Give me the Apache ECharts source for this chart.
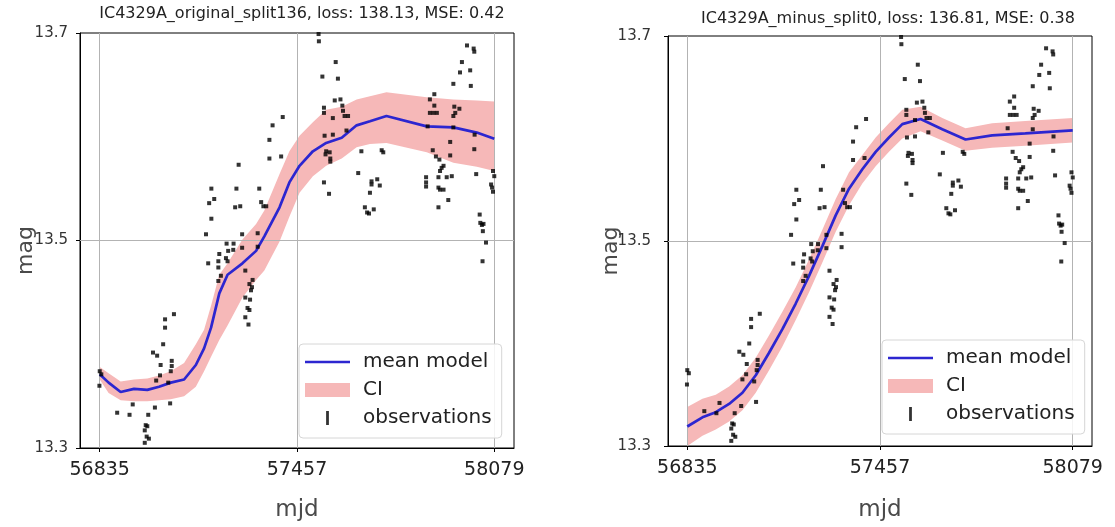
<!DOCTYPE html>
<html>
<head>
<meta charset="utf-8">
<script src="https://cdn.jsdelivr.net/npm/echarts@6/dist/echarts.min.js"></script>
<style>
  html, body { margin: 0; padding: 0; background: #fff; }
  #chart { width: 1115px; height: 527px; }
</style>
</head>
<body>
<div id="chart"></div>
<script>
// Panel titles
const panelTitles = [
  'IC4329A_original_split136, loss: 138.13, MSE: 0.42',
  'IC4329A_minus_split0, loss: 136.81, MSE: 0.38'
];

// Tick values
const mjdTicks = [56835, 57457, 58079];
const magTicks = [13.3, 13.5, 13.7];

// Observed light curve [mjd, mag]
const observations = [
  [56835,13.374],[56840,13.371],[56834,13.360],[56890,13.334],[56929,13.332],[56939,13.342],
  [56980,13.322],[56985,13.321],[56977,13.317],[56983,13.311],[56990,13.309],[56977,13.305],
  [56988,13.332],[57009,13.339],[57057,13.343],[57041,13.424],[57069,13.429],[57041,13.416],
  [57035,13.400],[57003,13.392],[57016,13.389],[57027,13.380],[57062,13.384],[57062,13.379],
  [57059,13.374],[57025,13.370],[57013,13.365],[57051,13.363],
  [57273,13.573],[57187,13.550],[57266,13.550],[57338,13.550],[57196,13.540],[57180,13.536],
  [57262,13.532],[57278,13.533],[57344,13.537],[57351,13.533],[57360,13.533],[57187,13.521],
  [57170,13.506],[57284,13.506],[57333,13.507],[57235,13.497],[57257,13.497],[57284,13.493],
  [57333,13.494],[57212,13.487],[57240,13.490],[57256,13.491],[57233,13.483],[57238,13.480],
  [57209,13.480],[57177,13.478],[57209,13.474],[57217,13.466],[57209,13.461],[57294,13.471],
  [57317,13.462],[57307,13.458],[57315,13.455],[57312,13.452],[57294,13.445],[57309,13.443],
  [57301,13.435],[57307,13.433],[57294,13.426],[57304,13.419],
  [57412,13.619],[57380,13.611],[57370,13.597],[57370,13.579],[57407,13.581],
  [57525,13.699],[57526,13.692],[57579,13.672],[57537,13.658],[57586,13.656],[57576,13.635],
  [57594,13.636],[57542,13.628],[57542,13.623],[57600,13.630],[57602,13.625],[57607,13.620],
  [57618,13.620],[57570,13.618],[57544,13.601],[57570,13.602],[57613,13.606],[57549,13.586],
  [57560,13.585],[57547,13.583],[57562,13.579],[57562,13.576],[57542,13.556],[57558,13.545],
  [57660,13.586],[57650,13.565],[57692,13.557],[57710,13.559],[57692,13.554],[57718,13.553],
  [57687,13.546],[57671,13.532],[57678,13.527],[57699,13.530],[57684,13.526],[57724,13.587],
  [57729,13.585],
  [57890,13.641],[57876,13.636],[57890,13.630],[57876,13.623],[57887,13.623],[57898,13.623],
  [57869,13.610],[57885,13.587],[57895,13.581],[57906,13.578],[57919,13.572],[57913,13.570],
  [57908,13.567],[57864,13.561],[57864,13.556],[57864,13.552],[57903,13.561],[57929,13.561],
  [57945,13.562],[57903,13.551],[57908,13.549],[57919,13.549],[57934,13.539],[57903,13.532],
  [57950,13.651],[57971,13.662],[57977,13.672],[58003,13.664],[58005,13.649],[57993,13.688],
  [58014,13.685],[58016,13.682],[57953,13.629],[57969,13.627],[57956,13.623],[57950,13.620],
  [57950,13.609],[57940,13.595],[57940,13.582],[58017,13.602],[58016,13.588],[58022,13.564],
  [58033,13.525],[58035,13.517],[58040,13.515],[58045,13.516],[58043,13.509],[58053,13.498],
  [58042,13.480],[58075,13.567],[58079,13.562],[58069,13.554],[58072,13.551],[58075,13.547]
];

// Model fit, original split
const origMjd   = [56835,56863,56901,56943,56985,57022,57059,57101,57138,57164,57186,57212,57238,57285,57328,
                   57354,57402,57433,57465,57507,57549,57598,57645,57687,57739,57866,57950,58024,58079];
const origMean  = [13.371,13.363,13.354,13.357,13.356,13.359,13.363,13.366,13.380,13.396,13.416,13.449,13.467,13.478,13.490,
                   13.504,13.532,13.556,13.572,13.586,13.594,13.599,13.611,13.615,13.620,13.610,13.609,13.604,13.598];
const origUpper = [13.378,13.372,13.364,13.366,13.367,13.370,13.374,13.382,13.400,13.414,13.437,13.467,13.478,13.501,13.516,
                   13.529,13.564,13.586,13.601,13.614,13.626,13.629,13.636,13.639,13.643,13.638,13.636,13.635,13.634];
const origLower = [13.366,13.353,13.346,13.345,13.345,13.346,13.347,13.350,13.359,13.374,13.388,13.404,13.418,13.445,13.462,
                   13.471,13.499,13.523,13.546,13.562,13.572,13.579,13.590,13.593,13.594,13.585,13.575,13.571,13.567];

// Model fit, minus split
const minusMjd   = [56835,56884,56927,56970,57013,57056,57099,57142,57185,57228,57271,57314,
                    57357,57400,57443,57486,57529,57588,57658,57733,57819,57926,58079];
const minusMean  = [13.319,13.328,13.333,13.341,13.352,13.369,13.391,13.414,13.439,13.466,13.495,13.525,
                    13.551,13.570,13.587,13.601,13.614,13.619,13.609,13.599,13.603,13.605,13.608];
const minusUpper = [13.338,13.346,13.350,13.358,13.369,13.386,13.408,13.431,13.455,13.482,13.511,13.541,
                    13.567,13.584,13.601,13.615,13.628,13.631,13.620,13.610,13.615,13.617,13.620];
const minusLower = [13.300,13.310,13.316,13.324,13.335,13.352,13.374,13.397,13.423,13.450,13.479,13.509,
                    13.535,13.556,13.573,13.587,13.600,13.607,13.598,13.588,13.591,13.593,13.596];

const BLUE = '#2c26d0';
const PINK = '#f6b8b8';
const FONT = 'DejaVu Sans';

const panels = [
  { grid: { left: 80, top: 33, width: 434, height: 416 },
    mjd: origMjd, mean: origMean, upper: origUpper, lower: origLower,
    title: panelTitles[0], titleX: 297, titleTop: 1,
    yLabelMargin: 12, yNameGap: 43, xNameGap: 51,
    legendPos: { left: 299, top: 344 } },
  { grid: { left: 668, top: 36, width: 424, height: 411 },
    mjd: minusMjd, mean: minusMean, upper: minusUpper, lower: minusLower,
    title: panelTitles[1], titleX: 883, titleTop: 6,
    yLabelMargin: 17, yNameGap: 46, xNameGap: 53,
    legendPos: { left: 882, top: 340 } }
];

const pairs = (xs, ys) => xs.map((x, i) => [x, ys[i]]);
const bandRows = (xs, lo, hi) => xs.map((x, i) => [x, lo[i], hi[i]]);

// 5% padding either side of the data span
const span = mjdTicks[mjdTicks.length - 1] - mjdTicks[0];
const xMin = mjdTicks[0] - span * 0.05;
const xMax = mjdTicks[mjdTicks.length - 1] + span * 0.05;

// Draws the whole credible band as one polygon: upper edge forward, lower edge back
function renderBand(params, api) {
  if (params.dataIndexInside !== 0) return null;
  const n = params.dataInsideLength;
  const pts = [];
  for (let i = 0; i < n; i++) pts.push(api.coord([api.value(0, i), api.value(2, i)]));
  for (let i = n - 1; i >= 0; i--) pts.push(api.coord([api.value(0, i), api.value(1, i)]));
  return {
    type: 'polygon',
    shape: { points: pts },
    style: { fill: PINK, stroke: null }
  };
}

const option = {
  animation: false,
  textStyle: { fontFamily: FONT },
  title: [], grid: [], xAxis: [], yAxis: [], legend: [], series: []
};

panels.forEach((p, k) => {
  option.title.push({
    text: p.title, left: p.titleX, top: p.titleTop, textAlign: 'center',
    textStyle: { fontSize: 16, fontWeight: 'normal', color: '#222', fontFamily: FONT }
  });
  option.grid.push(Object.assign({ show: true, borderColor: '#000', borderWidth: 1, backgroundColor: '#fff' }, p.grid));
  option.xAxis.push({
    type: 'value', gridIndex: k, min: xMin, max: xMax,
    name: 'mjd', nameLocation: 'middle', nameGap: p.xNameGap, nameMoveOverlap: false,
    nameTextStyle: { fontSize: 23, color: '#4a4a4a', fontFamily: FONT },
    axisLine: { show: true, onZero: false, lineStyle: { color: '#000', width: 1 } },
    axisTick: { show: true, length: 4, customValues: mjdTicks, lineStyle: { color: '#000' } },
    axisLabel: { customValues: mjdTicks, fontSize: 19, color: '#222', margin: 13, formatter: v => String(v) },
    splitLine: { show: false }
  });
  option.yAxis.push({
    type: 'value', gridIndex: k, min: magTicks[0], max: magTicks[magTicks.length - 1],
    name: 'mag', nameLocation: 'middle', nameGap: p.yNameGap, nameMoveOverlap: false,
    nameTextStyle: { fontSize: 22, color: '#4a4a4a', fontFamily: FONT, padding: [0, 20, 0, 0] },
    axisLine: { show: true, onZero: false, lineStyle: { color: '#000', width: 1 } },
    axisTick: { show: true, length: 4, customValues: magTicks, lineStyle: { color: '#000' } },
    axisLabel: { customValues: magTicks, fontSize: 15, color: '#333', margin: p.yLabelMargin, formatter: v => v.toFixed(1) },
    splitLine: { show: false }
  });
  option.legend.push(Object.assign({
    orient: 'vertical', selectedMode: false,
    data: [
      { name: 'mean model', icon: 'path://M0,0H45V2.6H0Z', itemStyle: { color: BLUE, borderWidth: 0 } },
      { name: 'CI', icon: 'rect', itemStyle: { color: PINK, borderWidth: 0 } },
      { name: 'observations', icon: 'path://M0,0H1.4V7H0Z', itemStyle: { color: '#000', borderWidth: 0 } }
    ],
    itemWidth: 45, itemHeight: 14, itemGap: 6,
    padding: [7, 10, 9, 6],
    backgroundColor: 'rgba(255,255,255,0.85)', borderColor: '#d6d6d6', borderWidth: 1, borderRadius: 4,
    textStyle: { fontSize: 20, lineHeight: 22, color: '#222', fontFamily: FONT, padding: [0, 0, 0, 8] }
  }, p.legendPos));

  // credible band
  option.series.push({
    name: 'CI', type: 'custom', xAxisIndex: k, yAxisIndex: k,
    data: bandRows(p.mjd, p.lower, p.upper),
    encode: { x: 0, y: [1, 2] },
    renderItem: renderBand, clip: true, silent: true, z: 2,
    itemStyle: { color: PINK },
    markLine: {
      silent: true, symbol: 'none', z: 2.5, animation: false,
      label: { show: false },
      lineStyle: { color: '#b3b3b3', width: 1, type: 'solid' },
      emphasis: { disabled: true },
      data: mjdTicks.map(v => ({ xAxis: v })).concat([{ yAxis: magTicks[1] }])
    }
  });
  option.series.push({
    name: 'mean model', type: 'line', xAxisIndex: k, yAxisIndex: k,
    data: pairs(p.mjd, p.mean), symbol: 'none', silent: true, z: 3,
    lineStyle: { color: BLUE, width: 2.7 }, itemStyle: { color: BLUE }
  });
  option.series.push({
    name: 'observations', type: 'scatter', xAxisIndex: k, yAxisIndex: k,
    data: observations, symbol: 'rect', symbolSize: 4, silent: true, z: 4,
    itemStyle: { color: '#000' }
  });
});

const chart = echarts.init(document.getElementById('chart'));
chart.setOption(option);
</script>
</body>
</html>
